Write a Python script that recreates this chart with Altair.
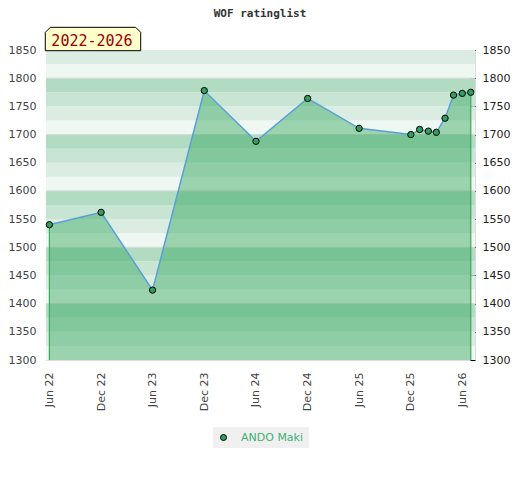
import altair as alt
import pandas as pd

# ---------------- data ----------------
title_text = "WOF ratinglist"
period_text = "2022-2026"
player = "ANDO Maki"

dates = ["2022-06-01", "2022-12-01", "2023-06-01", "2023-12-01", "2024-06-01",
         "2024-12-01", "2025-06-01", "2025-12-01", "2026-01-01", "2026-02-01",
         "2026-03-01", "2026-04-01", "2026-05-01", "2026-06-01", "2026-07-01"]
ratings = [1540, 1562, 1424, 1778, 1688, 1764, 1711, 1700, 1709, 1706,
           1704, 1729, 1770, 1773, 1775]

tick_months = [(2022, 6), (2022, 12), (2023, 6), (2023, 12), (2024, 6),
               (2024, 12), (2025, 6), (2025, 12), (2026, 6)]
y_labels = list(range(1300, 1851, 50))
y_minor = list(range(1300, 1851, 10))
grid_values = [1400, 1500, 1600, 1700, 1800]
band_starts = list(range(1300, 1850, 25))
y_min, y_max = 1300, 1850

# ---------------- styles ----------------
W, H = 429, 310
band_colors = ["#b2dcc2", "#c7e5d2", "#dbede2", "#eef7f1"]  # dark -> lightest
area_color = "#1e9e4d"
line_color = "#5a9fd8"
point_color = "#2f9e5f"
edge_color = "#3aa860"
label_font = "DejaVu Sans"

df = pd.DataFrame({
    "date": dates,
    "rating": ratings,
    "player": [player] * len(dates),
    "edge": [i in (0, len(dates) - 1) for i in range(len(dates))],
})
band_df = pd.DataFrame({
    "lo": band_starts,
    "hi": [b + 25 for b in band_starts],
    "col": [band_colors[3 - (b % 100) // 25] for b in band_starts],
})
grid_df = pd.DataFrame({"v": grid_values})
txt_df = pd.DataFrame({"title": [title_text], "period": [period_text]})

yscale = alt.Scale(domain=[y_min, y_max], zero=False, nice=False)
xscale = alt.Scale(type="utc", domain=[alt.DateTime(year=2022, month=5, date=20, utc=True),
                                       alt.DateTime(year=2026, month=7, date=16, utc=True)])
x_axis = alt.Axis(values=[alt.DateTime(year=y, month=m, date=1, utc=True) for y, m in tick_months],
                  format="%b %y", labelAngle=270, labelAlign="right", labelBaseline="middle",
                  ticks=False, domain=False, grid=False, labelPadding=12,
                  labelFont=label_font, labelFontSize=11, labelColor="#444", title=None,
                  labelOverlap=False)
X = alt.X("date:T", scale=xscale, axis=x_axis)

left_axis = alt.Axis(orient="left", values=y_labels, format="d", ticks=False, domain=False,
                     grid=False, labelPadding=10, labelFont=label_font, labelFontSize=11,
                     labelColor="#444", title=None)
right_axis = alt.Axis(orient="right", values=y_minor, format="d",
                      labelExpr="datum.value % 50 === 0 ? datum.label : ''",
                      tickSize={"condition": {"test": "datum.value % 50 === 0", "value": 5}, "value": 3},
                      offset=-5, domain=False, grid=False, tickColor="black",
                      labelColor="#222", labelFont=label_font, labelFontSize=11,
                      labelPadding=7, labelOverlap=False, title=None)

bands = alt.Chart(band_df).mark_rect().encode(
    y=alt.Y("lo:Q", scale=yscale, axis=None),
    y2="hi:Q",
    x=alt.value(0), x2=alt.value(W),
    color=alt.Color("col:N", scale=None, legend=None),
)
grid = alt.Chart(grid_df).mark_rule(color="#d8d8d8", strokeWidth=1).encode(
    y=alt.Y("v:Q", scale=yscale, axis=None)
)
base = alt.Chart(df)
area = base.mark_area(color=area_color, opacity=0.4).encode(
    x=X, y=alt.Y("rating:Q", scale=yscale, axis=left_axis), y2=alt.datum(y_min)
)
edges = base.transform_filter("datum.edge").mark_rule(color=edge_color, strokeWidth=1.2).encode(
    x=X, y=alt.Y("rating:Q", scale=yscale, axis=None), y2=alt.datum(y_min)
)
line = base.mark_line(color=line_color, strokeWidth=1.5).encode(
    x=X, y=alt.Y("rating:Q", scale=yscale, axis=None)
)
points = base.mark_point(filled=True, size=40, stroke="black", strokeWidth=1, opacity=1).encode(
    x=X, y=alt.Y("rating:Q", scale=yscale, axis=right_axis),
    color=alt.Color("player:N", scale=alt.Scale(range=[point_color]),
                    legend=alt.Legend(orient="none", legendX=167, legendY=377, title=None,
                                      fillColor="#f0f0f0", padding=5, labelColor="#3cb371",
                                      labelFont=label_font, labelFontSize=11, symbolType="circle",
                                      symbolSize=36, symbolStrokeColor="black",
                                      symbolStrokeWidth=1, labelOffset=12)),
)

title = alt.Chart(txt_df).mark_text(font="DejaVu Sans Mono", fontSize=11, fontWeight="bold",
                                    color="#333", align="center", baseline="alphabetic").encode(
    x=alt.value(214), y=alt.value(-33.5), text="title:N")
tab_path = "M-1,0.245L-1,-0.14L-0.895,-0.245L0.895,-0.245L1,-0.14L1,0.245Z"
tab = alt.Chart(txt_df).mark_point(shape=tab_path, size=9101, filled=True, fill="#ffffcc",
                                   stroke="black", strokeWidth=1, opacity=1).encode(
    x=alt.value(47), y=alt.value(-11))
tab_text = alt.Chart(txt_df).mark_text(font="DejaVu Sans Mono", fontSize=15, color="#990000",
                                       align="center", baseline="alphabetic").encode(
    x=alt.value(46), y=alt.value(-4.5), text="period:N")

chart = alt.layer(bands, grid, area, edges, line, points, title, tab, tab_text).resolve_axis(
    y="independent").resolve_scale(color="independent").properties(
    width=W, height=H, autosize=alt.AutoSizeParams(type="none"),
    padding={"left": 38, "top": 42, "right": 37, "bottom": 100},
).configure_view(stroke="#dddddd")

chart.save("out.html", embed_options={"renderer": "svg", "actions": False})
